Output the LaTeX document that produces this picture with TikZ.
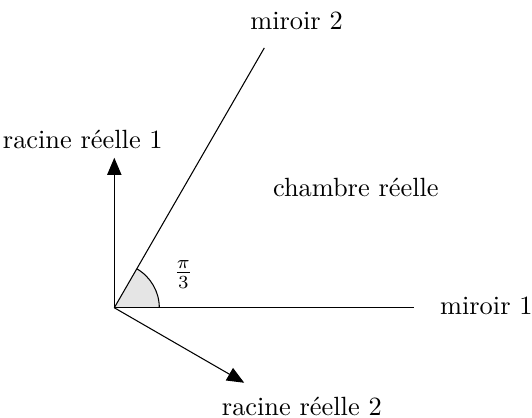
\documentclass[tikz,border=0pt]{standalone}
\usetikzlibrary{arrows.meta}
\begin{document}
\begin{tikzpicture}[
    mirror/.style={thin, black},
    root/.style={-{Triangle[length=6.5pt,width=5.4pt]}, thin, black},
    lbl/.style={font=\normalsize, text=black},
]
\useasboundingbox (-1.524,-1.457) rectangle (5.569,4.103);
% Points
\coordinate (O) at (0,0);
\coordinate (m1) at (4,0);
\coordinate (m2) at (60:4);
\coordinate (r1) at (0,2);
\coordinate (r2) at (-30:2);

% Angle
\fill[gray!20] (O) -- (0.6,0) arc (0:60:0.6) -- cycle;
\draw[thin] (0.6,0) arc (0:60:0.6);

% Mirrors
\draw[mirror] (O) -- (m1);
\draw[mirror] (O) -- (m2);

% Roots
\draw[root] (O) -- (r1);
\draw[root] (O) -- (r2);

% Labels
\node[lbl] (lm1) at (4.96,0.02) {miroir 1};
\node[lbl] (lm2) at (2.43,3.82) {miroir 2};
\node[lbl] (lr1) at (-0.42,2.24) {racine réelle 1};
\node[lbl] (lr2) at (2.5,-1.32) {racine réelle 2};
\node[lbl] (ch) at (3.22,1.6) {chambre réelle};
\node[lbl] (ang) at (0.92,0.44) {$\frac{\pi}{3}$};
\end{tikzpicture}
\end{document}
